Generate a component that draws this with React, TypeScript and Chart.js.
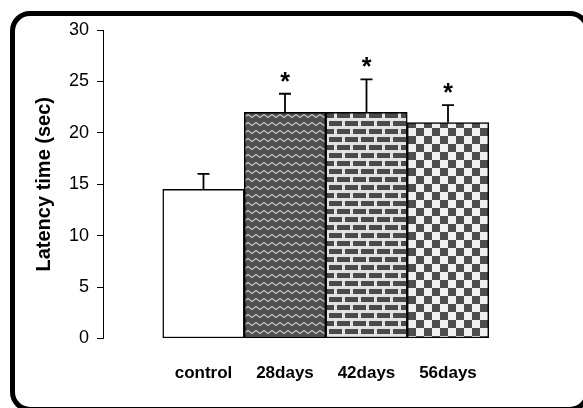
import React, { useEffect, useRef } from "react";
import { Chart, registerables } from "chart.js";

Chart.register(...registerables);

const categories = ["control", "28days", "42days", "56days"];
const latency = [14.5, 22, 22, 21];
const errorTop = [16.0, 23.8, 25.2, 22.7];
const significance = ["", "*", "*", "*"];
const yMin = 0;
const yMax = 30;
const yStep = 5;

const FONT = "'Liberation Sans', Arial, Helvetica, sans-serif";

function makePattern(kind: string): CanvasPattern | string {
  const c = document.createElement("canvas");
  const ctx = c.getContext("2d");
  if (!ctx) return "#555";
  if (kind === "zigzag") {
    c.width = 8;
    c.height = 8;
    ctx.fillStyle = "#505050";
    ctx.fillRect(0, 0, 8, 8);
    ctx.strokeStyle = "#c4c4c4";
    ctx.lineWidth = 1.3;
    ctx.beginPath();
    ctx.moveTo(-2, 5.5);
    ctx.lineTo(0, 2.5);
    ctx.lineTo(4, 5.5);
    ctx.lineTo(8, 2.5);
    ctx.lineTo(10, 5.5);
    ctx.stroke();
  } else if (kind === "brick") {
    c.width = 16;
    c.height = 16;
    ctx.fillStyle = "#e2e2e2";
    ctx.fillRect(0, 0, 16, 16);
    ctx.fillStyle = "#4a4a4a";
    ctx.fillRect(1, 1, 13, 5);
    ctx.fillRect(9, 9, 13, 5);
    ctx.fillRect(-7, 9, 13, 5);
  } else if (kind === "checker") {
    c.width = 16;
    c.height = 16;
    ctx.fillStyle = "#f0f0f0";
    ctx.fillRect(0, 0, 16, 16);
    ctx.fillStyle = "#4d4d4d";
    ctx.fillRect(0, 0, 8, 8);
    ctx.fillRect(8, 8, 8, 8);
  } else {
    return "#ffffff";
  }
  const p = ctx.createPattern(c, "repeat");
  return p || "#555";
}

const errorBarPlugin = {
  id: "errorBars",
  afterDatasetsDraw(chart: any) {
    const ctx = chart.ctx;
    const xs = chart.scales.x;
    const ys = chart.scales.y;
    ctx.save();
    ctx.strokeStyle = "#000";
    ctx.fillStyle = "#000";
    ctx.lineWidth = 1.8;
    categories.forEach((_, i) => {
      const x = xs.getPixelForValue(i);
      const yb = ys.getPixelForValue(latency[i]);
      const yt = ys.getPixelForValue(errorTop[i]);
      ctx.beginPath();
      ctx.moveTo(x, yb);
      ctx.lineTo(x, yt);
      ctx.moveTo(x - 6, yt);
      ctx.lineTo(x + 6, yt);
      ctx.stroke();
      if (significance[i]) {
        ctx.font = `bold 25px ${FONT}`;
        ctx.textAlign = "center";
        ctx.textBaseline = "alphabetic";
        ctx.fillText(significance[i], x, yt - 4);
      }
    });
    ctx.restore();
  },
};

export default function App() {
  const ref = useRef<HTMLCanvasElement | null>(null);

  useEffect(() => {
    if (!ref.current) return;
    const fills = [
      makePattern("none"),
      makePattern("zigzag"),
      makePattern("brick"),
      makePattern("checker"),
    ];
    const chart = new Chart(ref.current, {
      type: "bar",
      data: {
        datasets: [
          {
            data: latency.map((v, i) => ({ x: i, y: v })),
            backgroundColor: fills as any,
            borderColor: "#000",
            borderWidth: 1.5,
            borderSkipped: false,
            barPercentage: 1,
            categoryPercentage: 1,
          },
        ],
      },
      options: {
        animation: false,
        responsive: true,
        maintainAspectRatio: false,
        layout: { padding: { left: 32, top: 30, right: 53.5, bottom: 0 } },
        plugins: {
          legend: { display: false },
          tooltip: { enabled: false },
        },
        scales: {
          x: {
            type: "linear",
            offset: false,
            min: -1.233,
            max: 4,
            grid: { display: false },
            border: { display: false },
            afterBuildTicks: (scale: any) => {
              scale.ticks = categories.map((_, i) => ({ value: i }));
            },
            afterFit: (scale: any) => {
              scale.height = 69.5;
              scale.paddingLeft = 0;
              scale.paddingRight = 0;
              scale.paddingTop = 0;
              scale.paddingBottom = 0;
            },
            ticks: {
              autoSkip: false,
              maxRotation: 0,
              minRotation: 0,
              padding: 17,
              color: "#000",
              font: { family: FONT, size: 17, weight: "bold" },
              callback: (v: any) => categories[v as number] ?? "",
            },
          },
          y: {
            min: yMin,
            max: yMax,
            afterFit: (scale: any) => {
              scale.width = 71;
              scale.paddingTop = 0;
              scale.paddingBottom = 0;
            },
            grid: {
              display: true,
              drawOnChartArea: false,
              drawTicks: true,
              tickLength: 6,
              color: "#000",
              lineWidth: 1,
            },
            border: { display: true, color: "#000", width: 1 },
            ticks: {
              stepSize: yStep,
              padding: 8,
              color: "#000",
              font: { family: FONT, size: 18 },
            },
            title: {
              display: true,
              text: "Latency time (sec)",
              color: "#000",
              padding: { top: 0, bottom: 0 },
              font: { family: FONT, size: 20, weight: "bold" },
            },
          },
        },
      },
      plugins: [errorBarPlugin],
    });
    return () => chart.destroy();
  }, []);

  return (
    <div
      style={{
        position: "fixed",
        left: 0,
        top: 0,
        width: 583,
        height: 408,
        overflow: "hidden",
        background: "#fff",
      }}
    >
      <div
        style={{
          position: "absolute",
          left: 10,
          top: 10.5,
          width: 580,
          height: 401,
          boxSizing: "border-box",
          border: "5px solid #000",
          borderRadius: 20,
        }}
      />
      <div style={{ position: "absolute", left: 0, top: 0, width: 583, height: 408 }}>
        <canvas ref={ref} />
      </div>
    </div>
  );
}
